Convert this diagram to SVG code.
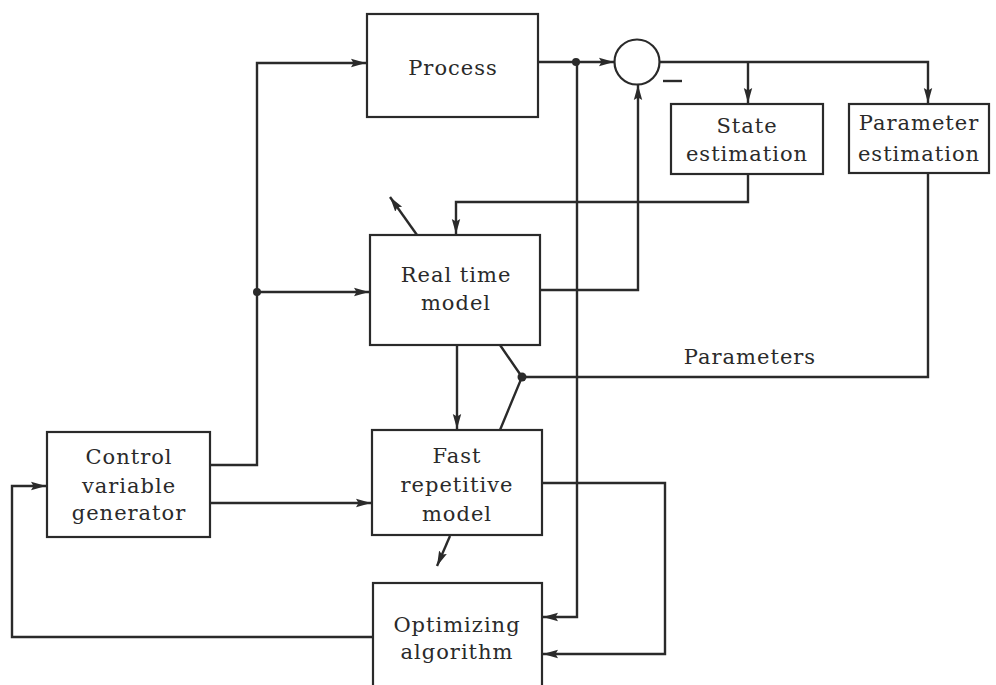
<svg xmlns="http://www.w3.org/2000/svg" width="996" height="685" viewBox="0 0 996 685">
  <style>
    .box { fill: #ffffff; stroke: #2a2a2a; stroke-width: 2.2; }
    .wire { fill: none; stroke: #2a2a2a; stroke-width: 2.4; stroke-linejoin: miter; }
    .arr { marker-end: url(#head); }
    .dot { fill: #2a2a2a; }
    text { font-family: "DejaVu Serif", "Liberation Serif", serif; font-size: 21px; fill: #2a2a2a; text-anchor: middle; letter-spacing: 1px; }
  </style>
  <defs>
    <marker id="head" markerUnits="userSpaceOnUse" markerWidth="16" markerHeight="10" refX="15" refY="5" orient="auto">
      <path d="M0,0.8 L15,5 L0,9.2 L2.5,5 z" fill="#2a2a2a"/>
    </marker>
  </defs>
  <rect width="996" height="685" fill="#ffffff"/>

  <!-- connectors -->
  <g id="connectors">
    <!-- control variable generator to process and real time model -->
    <polyline class="wire arr" points="210,465 257,465 257,63 366,63"/>
    <line class="wire arr" x1="257" y1="292" x2="369" y2="292"/>
    <circle class="dot" cx="257" cy="292" r="4"/>
    <!-- control variable generator to fast repetitive model -->
    <line class="wire arr" x1="210" y1="503" x2="371" y2="503"/>
    <!-- process output to summing junction -->
    <line class="wire arr" x1="538" y1="62" x2="614" y2="62"/>
    <circle class="dot" cx="576" cy="62" r="4"/>
    <!-- measured output to optimizing algorithm -->
    <polyline class="wire arr" points="577,62 577,617 543,617"/>
    <!-- error signal to estimators -->
    <polyline class="wire arr" points="659,62 928,62 928,103"/>
    <line class="wire arr" x1="748" y1="62" x2="748" y2="103"/>
    <!-- state estimate back to real time model -->
    <polyline class="wire arr" points="748,174 748,202 456,202 456,234"/>
    <!-- real time model output to summing junction -->
    <polyline class="wire arr" points="540,290 638,290 638,85"/>
    <!-- real time model to fast repetitive model -->
    <line class="wire arr" x1="457" y1="345" x2="457" y2="429"/>
    <!-- parameters distribution -->
    <polyline class="wire" points="928,173 928,377 522,377"/>
    <polyline class="wire" points="500,345 522,377 500,430"/>
    <circle class="dot" cx="522" cy="377" r="4.5"/>
    <!-- fast repetitive model to optimizing algorithm -->
    <polyline class="wire arr" points="542,483 665,483 665,654 543,654"/>
    <!-- optimizing algorithm back to control variable generator -->
    <polyline class="wire arr" points="373,637 12,637 12,486 46,486"/>
    <!-- outgoing arrows -->
    <line class="wire arr" x1="417" y1="235" x2="390" y2="197"/>
    <line class="wire arr" x1="450" y1="536" x2="437" y2="566"/>
  </g>

  <g id="process">
    <rect class="box" x="367" y="14" width="171" height="103"/>
    <text x="453" y="75">Process</text>
  </g>

  <g id="summing-junction">
    <circle cx="637" cy="62" r="22.5" fill="#ffffff" stroke="#2a2a2a" stroke-width="2.2"/>
    <line x1="663" y1="81" x2="682" y2="81" stroke="#2a2a2a" stroke-width="2.4"/>
  </g>

  <g id="state-estimation">
    <rect class="box" x="671" y="104" width="152" height="70"/>
    <text x="747" y="133">State</text>
    <text x="747" y="161">estimation</text>
  </g>

  <g id="parameter-estimation">
    <rect class="box" x="849" y="104" width="140" height="69"/>
    <text x="919" y="130" letter-spacing="0.5">Parameter</text>
    <text x="919" y="161" letter-spacing="0.5">estimation</text>
  </g>

  <g id="real-time-model">
    <rect class="box" x="370" y="235" width="170" height="110"/>
    <text x="456" y="282">Real time</text>
    <text x="456" y="310">model</text>
  </g>

  <g id="parameters-label">
    <text x="750" y="364">Parameters</text>
  </g>

  <g id="control-variable-generator">
    <rect class="box" x="47" y="432" width="163" height="105"/>
    <text x="129" y="464">Control</text>
    <text x="129" y="493">variable</text>
    <text x="129" y="520">generator</text>
  </g>

  <g id="fast-repetitive-model">
    <rect class="box" x="372" y="430" width="170" height="105"/>
    <text x="457" y="463">Fast</text>
    <text x="457" y="492">repetitive</text>
    <text x="457" y="521">model</text>
  </g>

  <g id="optimizing-algorithm">
    <rect class="box" x="373" y="583" width="169" height="120"/>
    <text x="457" y="632">Optimizing</text>
    <text x="457" y="659">algorithm</text>
  </g>
</svg>
